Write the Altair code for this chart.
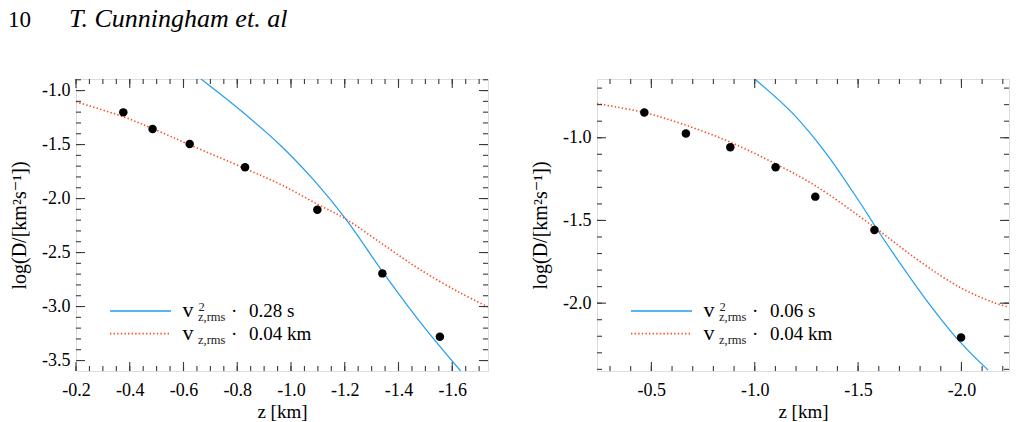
import altair as alt
import numpy as np
import pandas as pd

FONT = "Liberation Serif, Times New Roman, DejaVu Serif, serif"
BLUE = "#1E9EF2"
RED = "#FF4A1E"
AX = "#3a3a3a"

page_number = "10"
running_head = "T. Cunningham et. al"
x_title = "z [km]"
y_title = "log(D/[km²s⁻¹])"

# ---------------- left panel ----------------
L_dots_z = [-0.376, -0.485, -0.623, -0.829, -1.098, -1.340, -1.554]
L_dots_y = [-1.202, -1.356, -1.494, -1.711, -2.104, -2.693, -3.280]
L_red_z = [-0.200, -0.376, -0.485, -0.623, -0.829, -0.966, -1.099, -1.204, -1.340, -1.483, -1.631, -1.732]
L_red_y = [-1.104, -1.243, -1.352, -1.502, -1.722, -1.875, -2.053, -2.190, -2.421, -2.662, -2.875, -3.002]
L_blue_z = [-0.665, -0.813, -0.966, -1.085, -1.204, -1.340, -1.482, -1.631]
L_blue_y = [-0.893, -1.185, -1.520, -1.830, -2.190, -2.675, -3.150, -3.597]
L_xdomain = [-1.733, -0.2]
L_ydomain = [-3.597, -0.893]
L_xmajor = [-0.2, -0.4, -0.6, -0.8, -1.0, -1.2, -1.4, -1.6]
L_ymajor = [-1.0, -1.5, -2.0, -2.5, -3.0, -3.5]
L_legend = ["0.28 s", "0.04 km"]

# ---------------- right panel ----------------
R_dots_z = [-0.466, -0.667, -0.882, -1.101, -1.293, -1.579, -1.998]
R_dots_y = [-0.848, -0.974, -1.057, -1.179, -1.356, -1.558, -2.208]
R_red_z = [-0.237, -0.466, -0.667, -0.882, -1.101, -1.293, -1.579, -1.798, -1.992, -2.153, -2.230]
R_red_y = [-0.794, -0.848, -0.924, -1.027, -1.158, -1.290, -1.541, -1.747, -1.904, -1.995, -2.024]
R_blue_z = [-1.000, -1.185, -1.347, -1.508, -1.579, -1.669, -1.830, -1.992, -2.129]
R_blue_y = [-0.645, -0.854, -1.097, -1.390, -1.528, -1.697, -1.981, -2.233, -2.405]
R_xdomain = [-2.23, -0.237]
R_ydomain = [-2.41, -0.645]
R_xmajor = [-0.5, -1.0, -1.5, -2.0]
R_ymajor = [-1.0, -1.5, -2.0]
R_legend = ["0.06 s", "0.04 km"]

W, H = 412, 292
LABEL_EXPR = "'-' + format(abs(datum.value), '.1f')"


def ticks_in(lo, hi, step):
    n = int(round((hi - lo) / step))
    return [round(lo + i * step, 3) for i in range(n + 1)]


def panel(dz, dy, rz, ry, bz, by, xdom, ydom, xmaj, xmin_, ymaj, ymin_, legend, header_visible):
    xs = alt.Scale(domain=xdom, reverse=True, nice=False, zero=False)
    ys = alt.Scale(domain=ydom, nice=False, zero=False)
    xaxis = alt.Axis(values=xmaj, labelExpr=LABEL_EXPR, ticks=False, domain=False, grid=False,
                     labelFont=FONT, labelFontSize=18, labelColor="black", labelPadding=10,
                     labelFlush=False, labelOverlap=False, title=x_title, titleFont=FONT,
                     titleFontSize=19, titleFontWeight="normal", titleColor="black", titlePadding=3)
    yaxis = alt.Axis(values=ymaj, labelExpr=LABEL_EXPR, ticks=False, domain=False, grid=False,
                     labelFont=FONT, labelFontSize=18, labelColor="black", labelPadding=6,
                     labelFlush=False, labelOverlap=False, title=y_title, titleFont=FONT,
                     titleFontSize=20, titleFontWeight="normal", titleColor="black", titlePadding=12)

    def X(f):
        return alt.X(f, scale=xs, axis=xaxis)

    def Y(f):
        return alt.Y(f, scale=ys, axis=yaxis)

    dots = alt.Chart(pd.DataFrame({"z": dz, "y": dy})).mark_circle(
        size=72, color="black", opacity=1).encode(x=X("z:Q"), y=Y("y:Q"))

    red = alt.Chart(pd.DataFrame({"z": rz, "y": ry, "i": list(range(len(rz)))})).mark_line(
        color=RED, strokeWidth=1.6, strokeDash=[1.4, 2.2], clip=True, interpolate="catmull-rom").encode(
        x=X("z:Q"), y=Y("y:Q"), order="i:Q")

    blue = alt.Chart(pd.DataFrame({"z": bz, "y": by, "i": list(range(len(bz)))})).mark_line(
        color=BLUE, strokeWidth=1.2, clip=True, interpolate="catmull-rom").encode(
        x=X("z:Q"), y=Y("y:Q"), order="i:Q")

    layers = [blue, red, dots]

    # inward ticks on all four sides
    def xt(vals, length):
        d = pd.DataFrame({"z": vals})
        bot = alt.Chart(d).mark_rule(color=AX, strokeWidth=1.1).encode(
            x=X("z:Q"), y=alt.value(H), y2=alt.value(H - length))
        top = alt.Chart(d).mark_rule(color=AX, strokeWidth=1.1).encode(
            x=X("z:Q"), y=alt.value(0), y2=alt.value(length))
        return [bot, top]

    def yt(vals, length):
        d = pd.DataFrame({"y": vals})
        lef = alt.Chart(d).mark_rule(color=AX, strokeWidth=1.1).encode(
            y=Y("y:Q"), x=alt.value(0), x2=alt.value(length))
        rig = alt.Chart(d).mark_rule(color=AX, strokeWidth=1.1).encode(
            y=Y("y:Q"), x=alt.value(W), x2=alt.value(W - length))
        return [lef, rig]

    layers += xt(xmin_, 5) + xt(xmaj, 9) + yt(ymin_, 5) + yt(ymaj, 9)

    one = pd.DataFrame({"a": [0]})
    # legend
    for k, (col, dash) in enumerate([(BLUE, None), (RED, [1.4, 2.2])]):
        yy = 232 + 22.6 * k
        kw = dict(color=col, strokeWidth=1.3 if dash is None else 1.6)
        if dash:
            kw["strokeDash"] = dash
        layers.append(alt.Chart(one).mark_rule(**kw).encode(
            x=alt.value(34), x2=alt.value(95), y=alt.value(yy)))
        base = 238 + 22.6 * k
        layers.append(alt.Chart(one).mark_text(align="left", baseline="alphabetic", font=FONT,
                                               fontSize=22, color="black").encode(
            x=alt.value(106.5), y=alt.value(base), text=alt.value("v")))
        layers.append(alt.Chart(one).mark_text(align="left", baseline="alphabetic", font=FONT,
                                               fontSize=12.5, color="#222").encode(
            x=alt.value(122), y=alt.value(base + 4), text=alt.value("z,rms")))
        if k == 0:
            layers.append(alt.Chart(one).mark_text(align="left", baseline="alphabetic", font=FONT,
                                                   fontSize=12.5, color="#222").encode(
                x=alt.value(122.5), y=alt.value(base - 6.5), text=alt.value("2")))
        layers.append(alt.Chart(one).mark_text(align="left", baseline="alphabetic", font=FONT,
                                               fontSize=19, color="black").encode(
            x=alt.value(155), y=alt.value(base), text=alt.value("·")))
        layers.append(alt.Chart(one).mark_text(align="left", baseline="alphabetic", font=FONT,
                                               fontSize=19, color="black").encode(
            x=alt.value(173), y=alt.value(base), text=alt.value(legend[k])))

    # running head (visible on the left panel, invisible spacer on the right one)
    op = 1 if header_visible else 0
    layers.append(alt.Chart(one).mark_text(align="left", baseline="alphabetic", font=FONT,
                                           fontSize=23, color="black", opacity=op).encode(
        x=alt.value(-68 if header_visible else 0), y=alt.value(-52), text=alt.value(page_number)))
    if header_visible:
        layers.append(alt.Chart(one).mark_text(align="left", baseline="alphabetic", font=FONT,
                                               fontSize=26, fontStyle="italic", color="black").encode(
            x=alt.value(-7), y=alt.value(-52), text=alt.value(running_head)))

    return alt.layer(*layers).properties(width=W, height=H)


left = panel(L_dots_z, L_dots_y, L_red_z, L_red_y, L_blue_z, L_blue_y, L_xdomain, L_ydomain,
             L_xmajor, ticks_in(-1.70, -0.20, 0.05), L_ymajor, ticks_in(-3.5, -0.9, 0.1),
             L_legend, True)
right = panel(R_dots_z, R_dots_y, R_red_z, R_red_y, R_blue_z, R_blue_y, R_xdomain, R_ydomain,
              R_xmajor, ticks_in(-2.2, -0.3, 0.1), R_ymajor, ticks_in(-2.4, -0.7, 0.1),
              R_legend, False)

chart = alt.hconcat(left, right, spacing=40).properties(
    padding={"left": 7, "top": 5, "right": 2, "bottom": 2}
).configure_view(stroke=AX, strokeWidth=1.5).configure(background="white")

chart.save("out.html", embed_options={"renderer": "svg", "actions": False})
